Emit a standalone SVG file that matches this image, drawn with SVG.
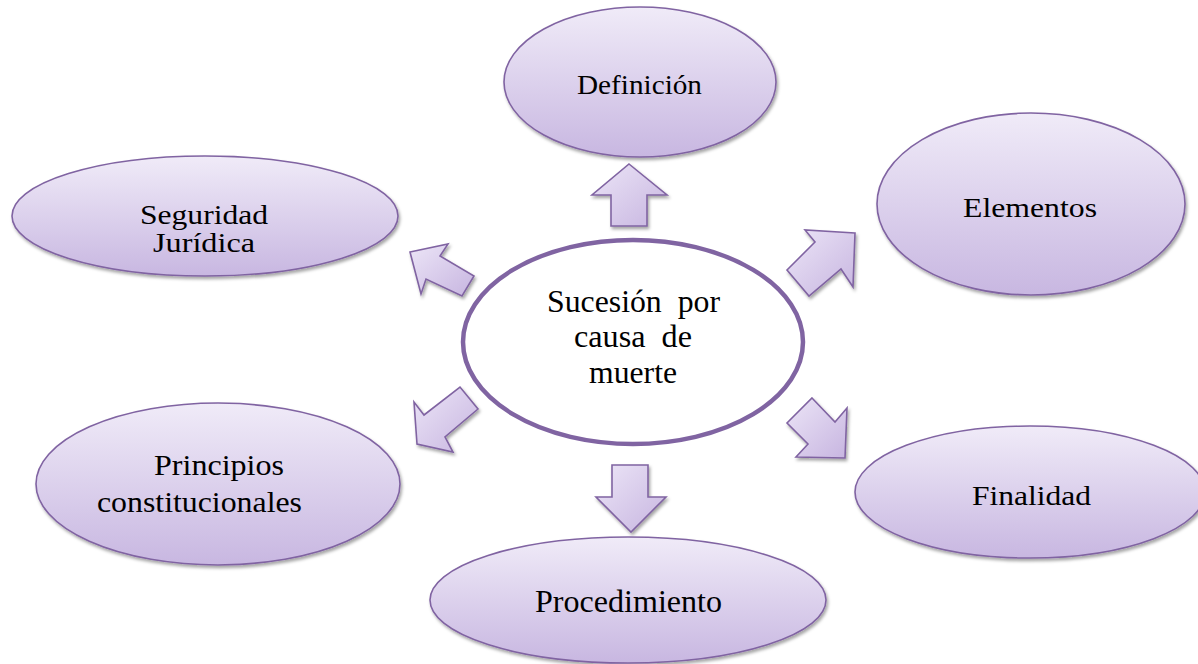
<svg xmlns="http://www.w3.org/2000/svg" width="1198" height="664" viewBox="0 0 1198 664">
<defs>
<linearGradient id="gNode" x1="0" y1="0" x2="0" y2="1">
<stop offset="0" stop-color="#f0ebf8"/>
<stop offset="1" stop-color="#c8b7e1"/>
</linearGradient>
<linearGradient id="gArrow" x1="0" y1="0" x2="1" y2="1">
<stop offset="0" stop-color="#ece5f7"/>
<stop offset="1" stop-color="#c7b5e0"/>
</linearGradient>
<filter id="sh" x="-20%" y="-20%" width="140%" height="140%">
<feDropShadow dx="1.5" dy="2.5" stdDeviation="1.8" flood-color="#000" flood-opacity="0.35"/>
</filter>
</defs>
<style>
.node{fill:url(#gNode);stroke:#8064a2;stroke-width:1.6;filter:url(#sh)}
.center{fill:#ffffff;stroke:#8064a2;stroke-width:4.5}
.arr{fill:url(#gArrow);stroke:#8064a2;stroke-width:1.6;stroke-linejoin:miter;filter:url(#sh)}
.t{fill:#000;font-size:28px}
.m{font-size:30px}
.c{font-size:32px}
</style>
<rect width="1198" height="664" fill="#ffffff"/>
<g id="connectors">
<polygon class="arr" points="629,164 667,195 647,195 647,226 611,226 611,195 592,195"/>
<polygon class="arr" points="612,465 648,465 648,497 666,497 631,532 596,497 612,497"/>
<polygon class="arr" points="410,252 448,244 440,256 474,276 462,296 426,279 421,294"/>
<polygon class="arr" points="855,233 805,230 815,242 787,270 809,296 841,269 853,287"/>
<polygon class="arr" points="417,444 414,402 424,415 460,387 478,409 445,437 453,452"/>
<polygon class="arr" points="812,398 835,422 847,408 845,458 796,457 808,444 787,423"/>
</g>
<g font-family="Liberation Serif, serif">
<g id="center">
<ellipse class="center" cx="633" cy="342" rx="170" ry="102"/>
<text class="t c" xml:space="preserve" x="547" y="312" textLength="173" lengthAdjust="spacingAndGlyphs">Sucesión  por</text>
<text class="t c" xml:space="preserve" x="574" y="347" textLength="118" lengthAdjust="spacingAndGlyphs">causa  de</text>
<text class="t c" x="589" y="383" textLength="88" lengthAdjust="spacingAndGlyphs">muerte</text>
</g>
<g id="definicion">
<ellipse class="node" cx="640" cy="82" rx="136" ry="75"/>
<text class="t" x="577" y="94" textLength="125" lengthAdjust="spacingAndGlyphs">Definición</text>
</g>
<g id="elementos">
<ellipse class="node" cx="1031" cy="204" rx="154" ry="91"/>
<text class="t" x="963" y="217" textLength="134" lengthAdjust="spacingAndGlyphs">Elementos</text>
</g>
<g id="seguridad">
<ellipse class="node" cx="205" cy="216" rx="193" ry="60"/>
<text class="t" x="140" y="224" textLength="128" lengthAdjust="spacingAndGlyphs">Seguridad</text>
<text class="t" x="153" y="252" textLength="102" lengthAdjust="spacingAndGlyphs">Jurídica</text>
</g>
<g id="principios">
<ellipse class="node" cx="218" cy="484" rx="182" ry="81"/>
<text class="t m" x="154" y="475" textLength="130" lengthAdjust="spacingAndGlyphs">Principios</text>
<text class="t m" x="97" y="512" textLength="205" lengthAdjust="spacingAndGlyphs">constitucionales</text>
</g>
<g id="finalidad">
<ellipse class="node" cx="1030" cy="492" rx="175" ry="66"/>
<text class="t" x="972" y="505" textLength="119" lengthAdjust="spacingAndGlyphs">Finalidad</text>
</g>
<g id="procedimiento">
<ellipse class="node" cx="628" cy="600" rx="198" ry="63"/>
<text class="t c" x="535" y="612" textLength="187" lengthAdjust="spacingAndGlyphs">Procedimiento</text>
</g>
</g>
</svg>
